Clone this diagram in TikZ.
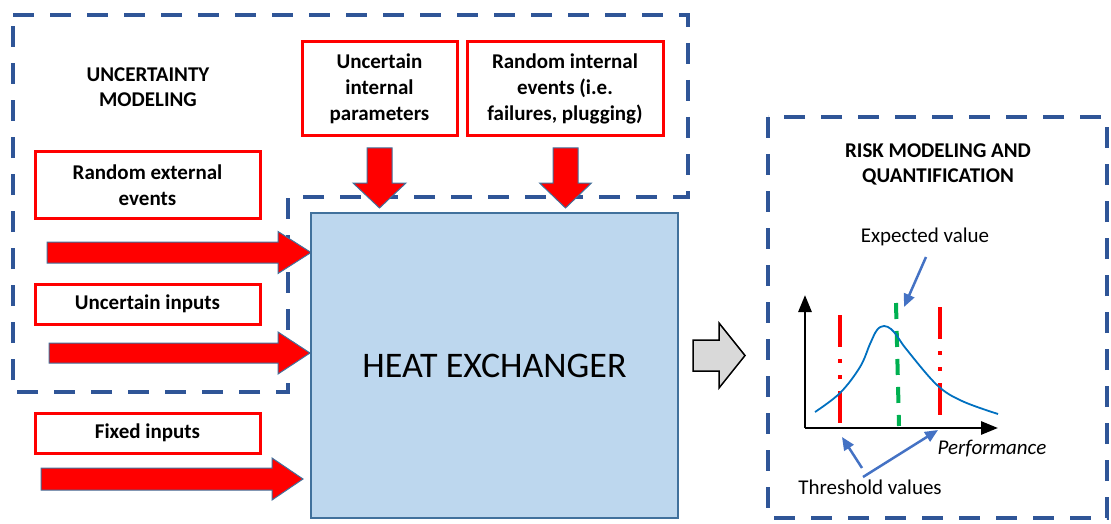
\documentclass[tikz,border=0pt]{standalone}
\usepackage{fontspec}
\setmainfont{Carlito}
\usetikzlibrary{arrows.meta}
\definecolor{dashblue}{HTML}{2F5597}
\definecolor{hxfill}{HTML}{BDD7EE}
\definecolor{hxline}{HTML}{41719C}
\definecolor{grayfill}{HTML}{D9D9D9}
\definecolor{curveblue}{HTML}{0070C0}
\definecolor{noteblue}{HTML}{4472C4}
\definecolor{thgreen}{HTML}{00B050}
% horizontal block arrow: #1 tail x, #2 centre y, #3 shaft half, #4 head base x, #5 head half, #6 tip x
\newcommand\hblockarrow[7]{%
  \draw[#7] (#1,#2-#3) -- (#4,#2-#3) -- (#4,#2-#5) -- (#6,#2) -- (#4,#2+#5) -- (#4,#2+#3) -- (#1,#2+#3) -- cycle;}
% vertical (downward) block arrow: #1 centre x, #2 tail y, #3 shaft half, #4 head base y, #5 head half, #6 tip y
\newcommand\vblockarrow[6]{%
  \draw[redblock] (#1-#3,#2) -- (#1-#3,#4) -- (#1-#5,#4) -- (#1,#6) -- (#1+#5,#4) -- (#1+#3,#4) -- (#1+#3,#2) -- cycle;}
\begin{document}
\begin{tikzpicture}[x=1pt,y=-1pt,
  region/.style={draw=dashblue, line width=4pt, dash pattern=on 21pt off 16pt},
  redbox/.style={draw=red, line width=3pt, fill=white, align=center, inner sep=0pt,
    font=\fontsize{21}{26}\selectfont\bfseries},
  titletext/.style={align=center, font=\fontsize{21}{25}\selectfont\bfseries},
  hxbox/.style={draw=hxline, line width=1.5pt, fill=hxfill, inner sep=0pt,
    font=\fontsize{36}{40}\selectfont},
  redblock/.style={fill=red, draw=hxline, line width=1pt, line join=miter},
  grayblock/.style={fill=grayfill, draw=black, line width=1.5pt, line join=miter},
  axisline/.style={draw=black, line width=2.8pt, -{Triangle[length=17pt,width=13pt]}},
  curveline/.style={draw=curveblue, line width=1.8pt},
  threshline/.style={draw=red, line width=4pt, dash pattern=on 32pt off 12pt on 4pt off 12pt on 4pt off 12pt},
  expline/.style={draw=thgreen, line width=4pt, dash pattern=on 16pt off 12pt},
  notearrow/.style={draw=noteblue, line width=2.5pt, -{Triangle[length=13pt,width=11pt]}},
  plaintext/.style={font=\fontsize{21}{24}\selectfont, inner sep=0pt}
]
\useasboundingbox (0,0) rectangle (1111,524);

% dashed regions
\draw[region] (13,15) -- (688,15) -- (688,197) -- (288,197) -- (288,392) -- (13,392) -- cycle;
\draw[region] (768,117) rectangle (1107,518);

% heat exchanger
\node[hxbox, minimum width=367pt, minimum height=305pt] (hx) at (494.5,365.5) {HEAT EXCHANGER};

% titles
\node[titletext] (um) at (148,87) {UNCERTAINTY\\MODELING};
\node[titletext] (rm) at (938,164) {RISK MODELING AND\\QUANTIFICATION};

% red boxes
\node[redbox, minimum width=155pt, minimum height=94pt] (uip) at (379.5,89) {Uncertain\\internal\\parameters};
\node[redbox, minimum width=196pt, minimum height=94pt] (rie) at (565,89) {Random internal\\events (i.e.\\failures, plugging)};
\node[redbox, minimum width=225pt, minimum height=66pt] (ree) at (147.5,185) {Random external\\events};
\node[redbox, minimum width=225pt, minimum height=40pt] (ui) at (147.5,304) {Uncertain inputs};
\node[redbox, minimum width=225pt, minimum height=40pt] (fi) at (147.5,433) {Fixed inputs};

% red block arrows into the heat exchanger
\hblockarrow{47}{252.5}{10.5}{278}{21}{311}{redblock}
\hblockarrow{49}{353}{10}{278}{21}{310}{redblock}
\hblockarrow{41}{479}{11}{272}{21}{303}{redblock}
\vblockarrow{379.5}{148}{12.5}{183}{26.5}{208}
\vblockarrow{565.5}{148}{12.5}{183}{26}{208}

% gray block arrow
\hblockarrow{693}{355.5}{15.5}{719}{32.5}{745}{grayblock}

% chart
\coordinate (O) at (805,428);
\coordinate (ytip) at (805,295);
\coordinate (xtip) at (998,428);
\draw[threshline] (840,315) -- (840,423);
\draw[threshline] (940,307) -- (940,417);
\draw[expline] (896,303) -- (899,426);
\draw[curveline] plot[smooth, tension=0.6] coordinates {(815,412) (840,393) (860,367) (870,344) (877,330) (884,326) (891,329) (897,336) (907,350) (937,385) (962,401) (998,414)};
\draw[axisline] (O) -- (ytip);
\draw[axisline] (O) -- (xtip);

\node[plaintext] (ev) at (925,237) {Expected value};
\node[plaintext] (tv) at (870,487) {Threshold values};
\node[plaintext, font=\fontsize{21}{24}\selectfont\itshape] (perf) at (992,449) {Performance};

\coordinate (evs) at (926,257);
\coordinate (evt) at (904,307);
\coordinate (tvs1) at (862,468);
\coordinate (tvt1) at (842,437);
\coordinate (tvs2) at (863,477);
\coordinate (tvt2) at (938,430);
\draw[notearrow] (evs) -- (evt);
\draw[notearrow] (tvs1) -- (tvt1);
\draw[notearrow] (tvs2) -- (tvt2);
\end{tikzpicture}
\end{document}
